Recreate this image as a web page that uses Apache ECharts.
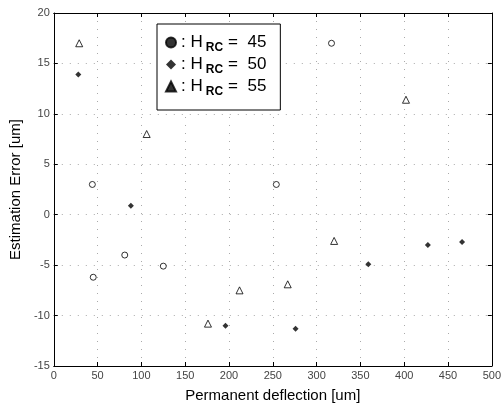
<!DOCTYPE html>
<html>
<head>
<meta charset="utf-8">
<script src="https://cdn.jsdelivr.net/npm/echarts@6/dist/echarts.min.js"></script>
<style>html,body{margin:0;padding:0;background:#fff}#main{width:504px;height:408px}</style>
</head>
<body>
<div id="main"></div>
<script>
var h45 = [[44,3],[45,-6.2],[81,-4],[125,-5.1],[254,3],[317,17]];
var h50 = [[28,13.9],[88,0.9],[196,-11],[276,-11.3],[359,-4.9],[427,-3],[466,-2.7]];
var h55 = [[29,17],[106,8],[176,-10.8],[212,-7.5],[267,-6.9],[320,-2.6],[402,11.4]];
var names = ['45','50','55'];

var main=document.getElementById("main");
var mychart=echarts.init(main);
var fnt='Liberation Sans';
var tick={show:true,inside:true,length:4,lineStyle:{color:'#000'}};
var grid={type:[1,7],color:'#aaa',width:1};
var option = {
    textStyle:{fontFamily:fnt},
    animation:false,
    grid: {left:42,right:7,top:13,bottom:40},
    legend: {
        orient:'vertical',left:157,top:24,
        backgroundColor:'#fff',borderColor:'#000',borderWidth:1,
        padding:[10,14,12,8],itemGap:2,itemWidth:10,itemHeight:10,
        data:[
            {name:'45',icon:'circle',itemStyle:{color:'#000',borderColor:'#000'}},
            {name:'50',icon:'diamond',itemStyle:{color:'#000'}},
            {name:'55',icon:'triangle',itemStyle:{color:'#000',borderColor:'#000'}}
        ],
        formatter:function(n){return '{t|: H}{s|RC}{t|=  '+n+'}';},
        textStyle:{rich:{
            t:{fontSize:17,fontFamily:fnt,color:'#000',lineHeight:22},
            s:{fontSize:12,fontFamily:fnt,color:'#000',fontWeight:'bold',padding:[11,5,0,3]}
        }}
    },
    xAxis: [{type:'value',min:0,max:500,interval:50,
        name:'Permanent deflection [um]',nameLocation:'middle',nameGap:22,
        nameTextStyle:{fontSize:15,color:'#000'},
        axisLine:{onZero:false,lineStyle:{color:'#000'}},axisTick:tick,
        axisLabel:{fontSize:11,color:'#444',margin:4},
        splitLine:{show:true,lineStyle:grid}},
        {type:'value',min:0,max:500,interval:50,position:'top',
        axisLine:{show:true,onZero:false,lineStyle:{color:'#000'}},axisTick:tick,axisLabel:{show:false},splitLine:{show:false}}],
    yAxis: [{type:'value',min:-15,max:20,interval:5,
        name:'Estimation Error [um]',nameLocation:'middle',nameGap:20,
        nameTextStyle:{fontSize:15,color:'#000'},
        axisLine:{show:true,onZero:false,lineStyle:{color:'#000'}},axisTick:tick,
        axisLabel:{fontSize:11,color:'#444',margin:4},
        splitLine:{show:true,lineStyle:grid}},
        {type:'value',min:-15,max:20,interval:5,position:'right',
        axisLine:{show:true,onZero:false,lineStyle:{color:'#000'}},axisTick:tick,axisLabel:{show:false},splitLine:{show:false}}],
    series: [
        {name:names[0],type:'scatter',data:h45,symbol:'circle',symbolSize:6,
            itemStyle:{color:'#fff',borderColor:'#000',borderWidth:1}},
        {name:names[1],type:'scatter',data:h50,symbol:'diamond',symbolSize:6,
            itemStyle:{color:'#000'}},
        {name:names[2],type:'scatter',data:h55,symbol:'triangle',symbolSize:7,
            itemStyle:{color:'#fff',borderColor:'#000',borderWidth:1}}
    ]
};
mychart.setOption(option);
</script>
</body>
</html>
